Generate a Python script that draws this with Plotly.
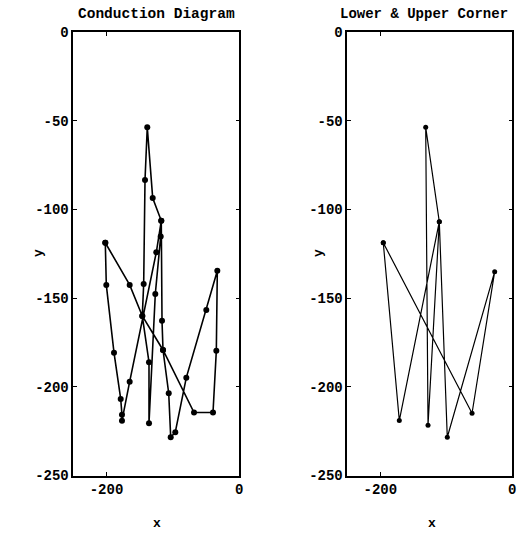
import plotly.graph_objects as go

# Conduction Diagram (full path)
cond_x = [-201.8, -200.3, -188.7, -178.6, -176.7, -176.7, -165.1, -125.0, -117.5, -130.4,
          -138.6, -142.0, -144.0, -146.1, -136.0, -136.0, -126.5, -118.4, -117.5, -116.4,
          -114.9, -106.3, -103.3, -96.4, -79.8, -49.7, -33.1, -34.6, -39.6, -68.2,
          -114.9, -146.1, -165.1, -201.8]
cond_y = [-118.7, -142.5, -180.7, -206.8, -215.8, -219.1, -197.1, -124.1, -106.3, -93.5,
          -53.6, -83.3, -142.0, -160.0, -186.1, -220.5, -147.6, -115.2, -106.3, -162.7,
          -179.2, -203.6, -228.4, -225.6, -194.8, -156.6, -134.5, -179.6, -214.5, -214.5,
          -179.2, -160.0, -142.5, -118.7]

# Lower & Upper Corner path
corner_x = [-195.5, -171.2, -110.6, -131.2, -127.7, -110.6, -98.5, -26.7, -61.0, -195.5]
corner_y = [-118.7, -219.0, -106.8, -53.6, -221.7, -106.8, -228.4, -135.0, -214.9, -118.7]

titles = ["Conduction Diagram", "Lower & Upper Corner"]
x_ticks = [-200, 0]
y_ticks = [0, -50, -100, -150, -200, -250]
x_range = [-250, 0]
y_range = [-250, 0]

FONT = "Liberation Mono"

fig = go.Figure()
fig.add_trace(go.Scatter(x=cond_x, y=cond_y, mode="lines+markers",
                         line=dict(color="black", width=1.6),
                         marker=dict(color="black", size=6, symbol="circle"),
                         xaxis="x", yaxis="y", showlegend=False))
fig.add_trace(go.Scatter(x=corner_x, y=corner_y, mode="lines+markers",
                         line=dict(color="black", width=1.2),
                         marker=dict(color="black", size=5, symbol="circle"),
                         xaxis="x2", yaxis="y2", showlegend=False))

W, H = 530, 535
xd1 = [73.3 / W, 239.3 / W]
xd2 = [347.3 / W, 512.3 / W]
yd = [1 - 475.5 / H, 1 - 32.3 / H]

tickfont = dict(family=FONT, size=14, color="black", weight="bold")
common_x = dict(range=x_range, tickvals=x_ticks, ticktext=[str(v) for v in x_ticks],
                ticks="inside", ticklen=4, tickcolor="black", showline=True, linecolor="black",
                linewidth=1.5, mirror="ticks", showgrid=False, zeroline=False, tickfont=tickfont,
                automargin=False)
common_y = dict(range=y_range, tickvals=y_ticks, ticktext=[str(v) for v in y_ticks],
                ticks="inside", ticklen=4, tickcolor="black", showline=True, linecolor="black",
                linewidth=1.5, mirror="ticks", showgrid=False, zeroline=False, tickfont=tickfont,
                automargin=False)

labfont = dict(family=FONT, size=13, color="black")
ymid = 1 - 253 / H
annotations = [
    dict(text="<b>" + titles[0] + "</b>", x=(xd1[0] + xd1[1]) / 2, y=1 - 14 / H,
         xref="paper", yref="paper", showarrow=False, xanchor="center", yanchor="middle",
         font=dict(family=FONT, size=14.5, color="black")),
    dict(text="<b>" + titles[1].replace("&", "&amp;") + "</b>", x=(xd2[0] + xd2[1]) / 2 - 0.01, y=1 - 14 / H,
         xref="paper", yref="paper", showarrow=False, xanchor="center", yanchor="middle",
         font=dict(family=FONT, size=14, color="black")),
    dict(text="<b>x</b>", x=157 / W, y=1 - 523 / H, xref="paper", yref="paper", showarrow=False,
         xanchor="center", yanchor="middle", font=labfont),
    dict(text="<b>x</b>", x=432 / W, y=1 - 523 / H, xref="paper", yref="paper", showarrow=False,
         xanchor="center", yanchor="middle", font=labfont),
    dict(text="<b>y</b>", x=38 / W, y=ymid, xref="paper", yref="paper", showarrow=False,
         xanchor="center", yanchor="middle", textangle=-90, font=labfont),
    dict(text="<b>y</b>", x=318 / W, y=ymid, xref="paper", yref="paper", showarrow=False,
         xanchor="center", yanchor="middle", textangle=-90, font=labfont),
]

fig.update_layout(
    width=W, height=H,
    margin=dict(l=0, r=0, t=0, b=0),
    paper_bgcolor="white", plot_bgcolor="white",
    xaxis=dict(domain=xd1, anchor="y", **common_x),
    yaxis=dict(domain=yd, anchor="x", **common_y),
    xaxis2=dict(domain=xd2, anchor="y2", **common_x),
    yaxis2=dict(domain=yd, anchor="x2", **common_y),
    annotations=annotations,
)

fig.write_html("out.html")
